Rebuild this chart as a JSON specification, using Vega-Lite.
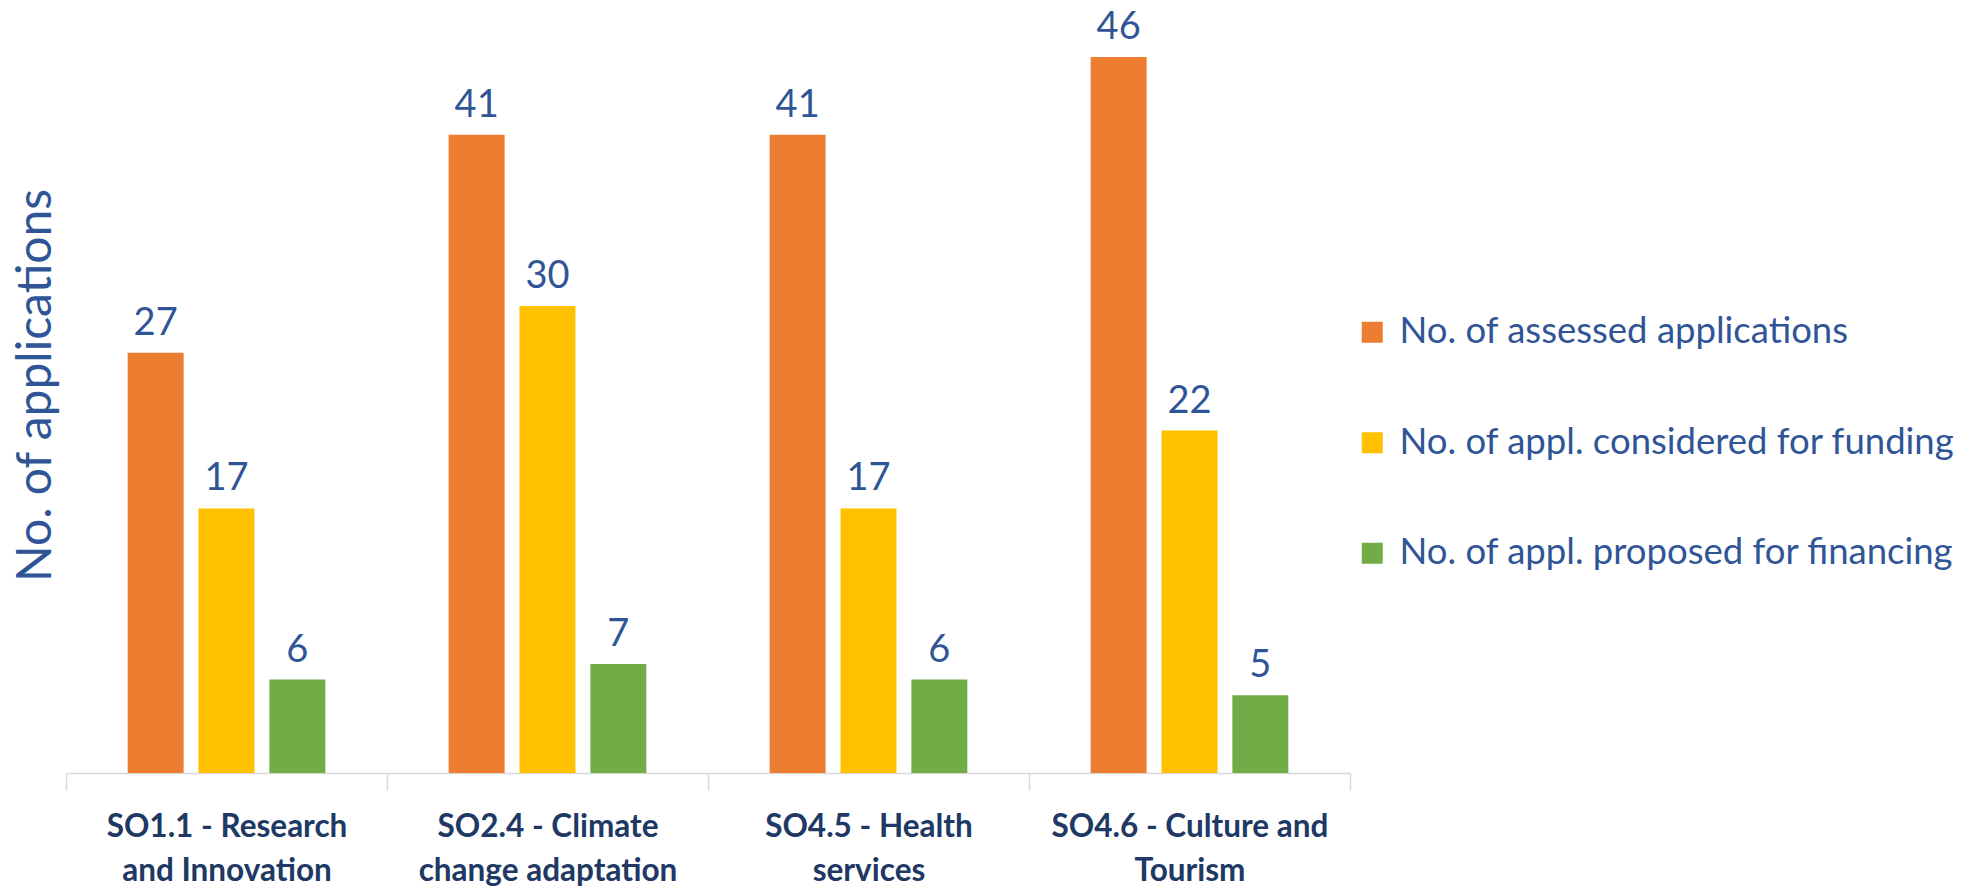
{
  "$schema": "https://vega.github.io/schema/vega-lite/v6.json",
  "width": 1284,
  "height": 716,
  "autosize": {"type": "none"},
  "padding": {"left": 66, "top": 57, "right": 628, "bottom": 120},
  "background": "white",
  "data": {
    "values": [
      {"objective": "SO1.1 - Research and Innovation", "series": "No. of assessed applications", "count": 27},
      {"objective": "SO1.1 - Research and Innovation", "series": "No. of  appl. considered for funding", "count": 17},
      {"objective": "SO1.1 - Research and Innovation", "series": "No. of appl. proposed for financing", "count": 6},
      {"objective": "SO2.4 - Climate change adaptation", "series": "No. of assessed applications", "count": 41},
      {"objective": "SO2.4 - Climate change adaptation", "series": "No. of  appl. considered for funding", "count": 30},
      {"objective": "SO2.4 - Climate change adaptation", "series": "No. of appl. proposed for financing", "count": 7},
      {"objective": "SO4.5 - Health services", "series": "No. of assessed applications", "count": 41},
      {"objective": "SO4.5 - Health services", "series": "No. of  appl. considered for funding", "count": 17},
      {"objective": "SO4.5 - Health services", "series": "No. of appl. proposed for financing", "count": 6},
      {"objective": "SO4.6 - Culture and Tourism", "series": "No. of assessed applications", "count": 46},
      {"objective": "SO4.6 - Culture and Tourism", "series": "No. of  appl. considered for funding", "count": 22},
      {"objective": "SO4.6 - Culture and Tourism", "series": "No. of appl. proposed for financing", "count": 5}
    ]
  },
  "encoding": {
    "x": {
      "field": "objective",
      "type": "nominal",
      "sort": ["SO1.1 - Research and Innovation", "SO2.4 - Climate change adaptation", "SO4.5 - Health services", "SO4.6 - Culture and Tourism"],
      "scale": {"paddingInner": 0, "paddingOuter": 0},
      "axis": {
        "title": null,
        "labelAngle": 0,
        "labelExpr": "datum.label == 'SO1.1 - Research and Innovation' ? ['SO1.1 - Research', 'and Innovation'] : datum.label == 'SO2.4 - Climate change adaptation' ? ['SO2.4 - Climate', 'change adaptation'] : datum.label == 'SO4.5 - Health services' ? ['SO4.5 - Health', 'services'] : datum.label == 'SO4.6 - Culture and Tourism' ? ['SO4.6 - Culture and', 'Tourism'] : ''",
        "labelFont": "Lato",
        "labelFontWeight": "bold",
        "labelFontSize": 31.5,
        "labelLineHeight": 44,
        "labelColor": "#203864",
        "labelPadding": 21,
        "labelBaseline": "top",
        "labelLimit": 0,
        "labelOverlap": false,
        "labelBound": false,
        "domainColor": "#D9D9D9",
        "domainWidth": 1.5,
        "tickColor": "#D9D9D9",
        "tickWidth": 1.5,
        "tickSize": 17,
        "tickBand": "extent",
        "grid": false
      }
    },
    "xOffset": {
      "field": "series",
      "type": "nominal",
      "sort": ["No. of assessed applications", "No. of  appl. considered for funding", "No. of appl. proposed for financing"],
      "scale": {"paddingInner": 0.21, "paddingOuter": 0.87}
    },
    "y": {
      "field": "count",
      "type": "quantitative",
      "scale": {"domain": [0, 46], "nice": false, "zero": true},
      "axis": {
        "title": "No. of applications",
        "titleFont": "Lato",
        "titleFontWeight": "normal",
        "titleFontSize": 48,
        "titleColor": "#2F5597",
        "titleAngle": -90,
        "titleAlign": "center",
        "titleBaseline": "alphabetic",
        "titleX": -16,
        "titleY": 328,
        "domain": false,
        "ticks": false,
        "labels": false,
        "grid": false
      }
    }
  },
  "layer": [
    {
      "mark": {"type": "bar"},
      "encoding": {
        "color": {
          "field": "series",
          "type": "nominal",
          "sort": ["No. of assessed applications", "No. of  appl. considered for funding", "No. of appl. proposed for financing"],
          "scale": {
            "domain": ["No. of assessed applications", "No. of  appl. considered for funding", "No. of appl. proposed for financing"],
            "range": ["#ED7D31", "#FFC000", "#70AD47"]
          },
          "legend": {
            "title": null,
            "orient": "none",
            "legendX": 1288,
            "legendY": 257,
            "padding": 0,
            "symbolType": "square",
            "symbolSize": 441,
            "symbolStrokeWidth": 0,
            "symbolOpacity": 1,
            "labelFont": "Lato",
            "labelFontSize": 36.5,
            "labelColor": "#2F5597",
            "labelOffset": 9,
            "labelLimit": 700,
            "rowPadding": 73.5
          }
        }
      }
    },
    {
      "mark": {"type": "text", "font": "Lato", "fontSize": 38, "color": "#2F5597", "baseline": "alphabetic", "dy": -18},
      "encoding": {
        "text": {"field": "count", "type": "quantitative"}
      }
    }
  ],
  "config": {"view": {"stroke": null}}
}
